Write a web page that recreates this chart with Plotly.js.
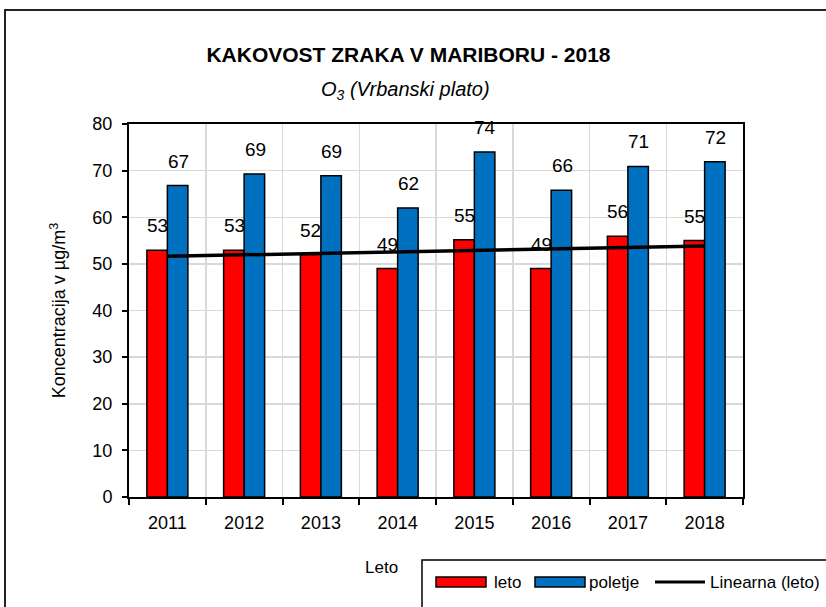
<!DOCTYPE html>
<html>
<head>
<meta charset="utf-8">
<script src="https://cdn.plot.ly/plotly-3.0.1.min.js"></script>
<style>html,body{margin:0;padding:0;background:#fff;}#chart{width:826px;height:607px;}</style>
</head>
<body>
<div id="chart"></div>
<script>
// ---- data ----
const years = ['2011','2012','2013','2014','2015','2016','2017','2018'];
const leto = [52.9, 52.9, 52.0, 49.0, 55.2, 49.0, 55.9, 55.0];
const poletje = [66.8, 69.3, 68.9, 62.0, 74.0, 65.8, 70.9, 71.9];
const seriesNames = ['leto', 'poletje', 'Linearna (leto)'];
const seriesColors = ['#ff0000', '#0070c0', '#000000'];
const yTicks = [0, 10, 20, 30, 40, 50, 60, 70, 80];

// linear trend of 'leto' (least squares over year index)
const n = leto.length;
const idx = leto.map((_, i) => i);
const mx = idx.reduce((a, b) => a + b, 0) / n;
const my = leto.reduce((a, b) => a + b, 0) / n;
let sxy = 0, sxx = 0;
idx.forEach(i => { sxy += (i - mx) * (leto[i] - my); sxx += (i - mx) * (i - mx); });
const slope = sxy / sxx, icpt = my - slope * mx;
const trend = idx.map(i => icpt + slope * i);

const FONT2 = '"Liberation Sans", Arial, sans-serif';

const traces = [
  {type: 'bar', x: years, y: leto, name: seriesNames[0], showlegend: false,
   marker: {color: seriesColors[0], line: {color: '#000', width: 1.5}}, hoverinfo: 'skip'},
  {type: 'bar', x: years, y: poletje, name: seriesNames[1], showlegend: false,
   marker: {color: seriesColors[1], line: {color: '#000', width: 1.5}}, hoverinfo: 'skip'},
  {type: 'scatter', mode: 'lines', x: years, y: trend, name: seriesNames[2], showlegend: false,
   line: {color: seriesColors[2], width: 3.5}, hoverinfo: 'skip'}
];

const annotations = [];
leto.forEach((v, i) => annotations.push({x: i, y: v, xref: 'x', yref: 'y', text: String(Math.round(v)),
  showarrow: false, xshift: -10, yshift: 12, yanchor: 'bottom', font: {family: FONT2, size: 19, color: '#000'}}));
poletje.forEach((v, i) => annotations.push({x: i, y: v, xref: 'x', yref: 'y', text: String(Math.round(v)),
  showarrow: false, xshift: 11, yshift: 12, yanchor: 'bottom', font: {family: FONT2, size: 19, color: '#000'}}));

// subtitle
annotations.push({xref: 'paper', yref: 'paper', x: 0.451, y: 1.091, text: '<i>O<sub>3</sub> (Vrbanski plato)</i>',
  showarrow: false, xanchor: 'center', yanchor: 'middle', font: {family: FONT2, size: 20, color: '#000'}});
// x axis title
annotations.push({xref: 'paper', yref: 'paper', x: 0.412, y: -0.1877, text: 'Leto',
  showarrow: false, xanchor: 'center', yanchor: 'middle', font: {family: FONT2, size: 17, color: '#000'}});

// legend (manual)
const W = 614, H = 373, L = 129, T = 124;
const px = x => (x - L) / W;
const py = y => (T + H - y) / H;
const shapes = [
  {type: 'rect', xref: 'paper', yref: 'paper', x0: px(5), x1: px(832), y0: py(10), y1: py(615),
   line: {color: '#222', width: 2}, fillcolor: 'rgba(0,0,0,0)', layer: 'below'},
  {type: 'rect', xref: 'paper', yref: 'paper', x0: px(422), x1: px(832), y0: py(560), y1: py(615),
   line: {color: '#000', width: 1.5}, fillcolor: '#fff'}
];
const legX = [436, 535, 655];
const legTextX = [492, 587, 708];
for (let k = 0; k < 3; k++) {
  if (k < 2) {
    shapes.push({type: 'rect', xref: 'paper', yref: 'paper', x0: px(legX[k]), x1: px(legX[k] + 50),
      y0: py(577), y1: py(587), line: {color: '#000', width: 1.5}, fillcolor: seriesColors[k]});
  } else {
    shapes.push({type: 'line', xref: 'paper', yref: 'paper', x0: px(legX[k]), x1: px(legX[k] + 50),
      y0: py(582), y1: py(582), line: {color: seriesColors[k], width: 3}});
  }
  annotations.push({xref: 'paper', yref: 'paper', x: px(legTextX[k]), y: py(582), text: seriesNames[k],
    showarrow: false, xanchor: 'left', yanchor: 'middle', font: {family: FONT2, size: 17, color: '#000'}});
}

const layout = {
  width: 826, height: 607,
  margin: {l: L, r: 826 - L - W, t: T, b: 607 - T - H, pad: 0},
  paper_bgcolor: '#fff', plot_bgcolor: '#fff',
  title: {text: '<b>KAKOVOST ZRAKA V MARIBORU - 2018</b>', x: 408.5 / 826, xanchor: 'center',
    xref: 'container', yref: 'container', y: 1 - 55 / 607, yanchor: 'middle',
    font: {family: FONT2, size: 21, color: '#000'}},
  font: {family: FONT2, size: 17, color: '#000'},
  barmode: 'group', bargap: 0.466, bargroupgap: 0,
  showlegend: false,
  xaxis: {type: 'category', range: [-0.5, 7.5], autorange: false,
    tickson: 'boundaries', ticks: 'outside', ticklen: 6, tickwidth: 2, tickcolor: '#000',
    showline: true, linecolor: '#000', linewidth: 2, mirror: true,
    showgrid: true, gridcolor: '#d9d9d9', gridwidth: 1.5,
    tickangle: 0, ticklabelstandoff: 8,
    tickfont: {family: FONT2, size: 18, color: '#000'}, fixedrange: true},
  yaxis: {range: [0, 80], autorange: false, tickvals: yTicks, ticks: 'outside', ticklen: 5, tickwidth: 2, tickcolor: '#000',
    showline: true, linecolor: '#000', linewidth: 2, mirror: true,
    showgrid: true, gridcolor: '#d9d9d9', gridwidth: 1.5, zeroline: false,
    ticklabelstandoff: 6,
    title: {text: 'Koncentracija v µg/m<sup>3</sup>', standoff: 22, font: {family: FONT2, size: 18, color: '#000'}},
    tickfont: {family: FONT2, size: 18, color: '#000'}, fixedrange: true},
  annotations: annotations,
  shapes: shapes
};

Plotly.newPlot('chart', traces, layout, {displayModeBar: false, staticPlot: true});
</script>
</body>
</html>
